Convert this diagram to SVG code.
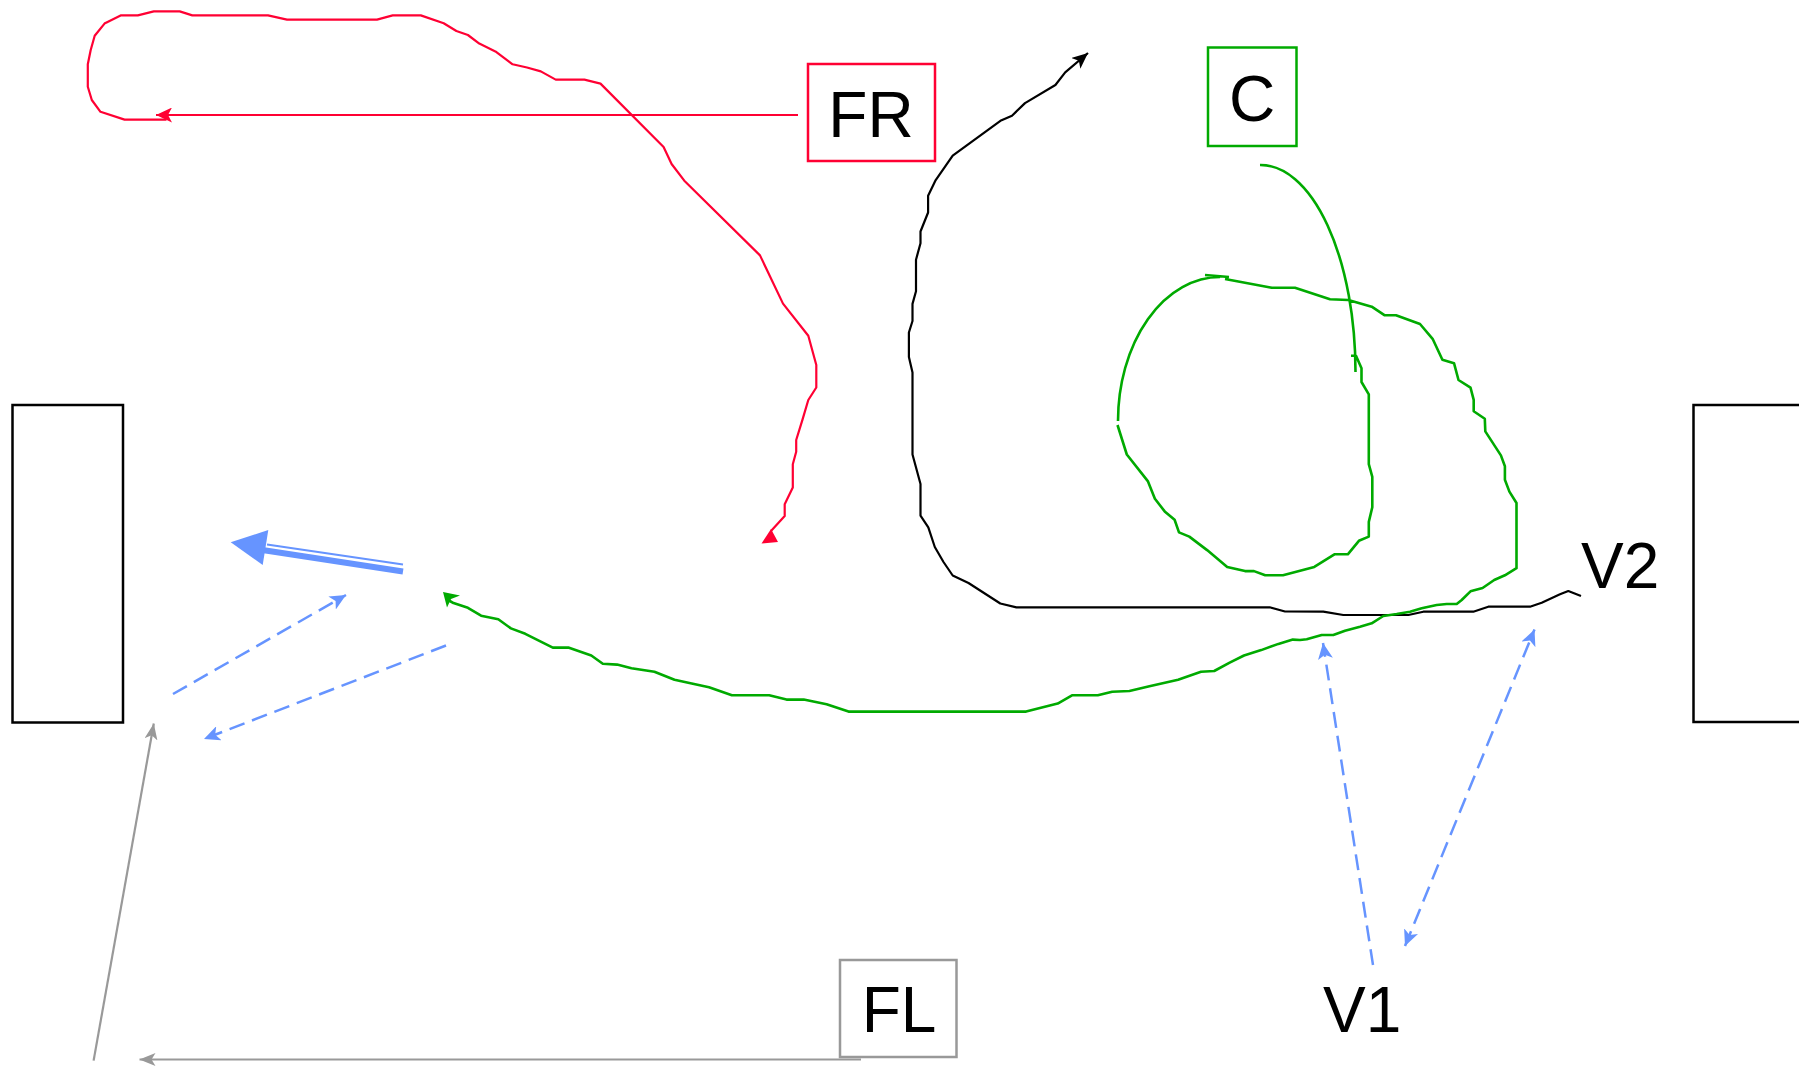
<svg xmlns="http://www.w3.org/2000/svg" width="1799" height="1067" viewBox="0 0 1799 1067">
<style>
.lbl{font-family:"Liberation Sans",Arial,sans-serif;font-size:64px;fill:#000}
.box{fill:#fff;stroke-width:2.5}
.wall{fill:#fff;stroke:#000;stroke-width:2.5}
.red{fill:none;stroke:#ff0033;stroke-width:2.2;stroke-linejoin:round}
.blk{fill:none;stroke:#000;stroke-width:2.2;stroke-linejoin:round}
.grn{fill:none;stroke:#00aa00;stroke-width:2.6;stroke-linejoin:round}
.gry{fill:none;stroke:#999;stroke-width:2.2}
.bdash{fill:none;stroke:#6694ff;stroke-width:2.5;stroke-dasharray:16 8}
</style>
<defs>
<marker id="aRed" markerUnits="userSpaceOnUse" viewBox="0 0 16 15" markerWidth="16" markerHeight="15" refX="16" refY="7.5" orient="auto"><path d="M16,7.5 L0,0 L4,7.5 L0,15 Z" fill="#ff0033"/></marker>
<marker id="aBlk" markerUnits="userSpaceOnUse" viewBox="0 0 16 14" markerWidth="16" markerHeight="14" refX="16" refY="7" orient="auto"><path d="M16,7 L0,0 L4,7 L0,14 Z" fill="#000"/></marker>
<marker id="aGry" markerUnits="userSpaceOnUse" viewBox="0 0 16 13" markerWidth="16" markerHeight="13" refX="16" refY="6.5" orient="auto"><path d="M16,6.5 L0,0 L4,6.5 L0,13 Z" fill="#999"/></marker>
<marker id="aBlu" markerUnits="userSpaceOnUse" viewBox="0 0 16 15" markerWidth="16" markerHeight="15" refX="16" refY="7.5" orient="auto-start-reverse"><path d="M16,7.5 L0,0 L4,7.5 L0,15 Z" fill="#6694ff"/></marker>
</defs>

<g id="wall-left"><rect class="wall" x="12.5" y="405" width="110.5" height="317.5"/></g>
<g id="wall-right"><rect class="wall" x="1693.5" y="405" width="120" height="317"/></g>

<g id="connectors">
  <!-- red -->
  <line class="red" x1="798" y1="115" x2="156" y2="115" marker-end="url(#aRed)"/>
  <path class="red" d="M166.5,119.6 L124.6,119.6 L100.5,111.8 L91.8,100 L87.8,86.8 L87.8,64.3 L90.7,50 L94.7,35.7 L104.5,23.6 L120.6,15.4 L137.8,15.4 L153.8,11.4 L179.7,11.4 L192.3,15.4 L268,15.4 L287,19.6 L377,19.6 L392.7,15.4 L420.8,15.4 L443.7,23.2 L456.4,31 L467.9,35 L479.3,43.6 L495.4,51.4 L512.6,64.3 L527,67.5 L540.8,71.4 L555.7,79.6 L584.4,79.6 L600.5,83.6 L663.6,147 L671.6,164 L684.3,180.7 L760,255.4 L783,303.6 L808.3,335.7 L816.3,365 L816.3,387.5 L808.3,400 L802.5,419.6 L796.2,440 L796.2,451.8 L792.8,464.3 L792.8,487.5 L784.7,504.3 L784.7,516 L771,531"/>
  <polygon points="761.5,543.5 778,542 771,529" fill="#ff0033"/>

  <!-- black -->
  <path class="blk" d="M1581,596 L1568.3,591 L1560,594.3 L1541.7,602.7 L1530,606.7 L1488.3,606.7 L1473.3,611.7 L1423.3,611.7 L1408.3,615 L1343.3,615 L1323.3,611.7 L1285,611.5 L1269.6,607.3 L1016.4,607.4 L1000.3,603.5 L968.5,583 L952.7,575.5 L943.5,562 L934.8,547 L928.3,527.4 L920.5,515.6 L920.5,484 L912.5,454.5 L912.5,372.5 L908.9,356.9 L908.9,332.5 L912.5,321 L912.5,303.9 L916,291.2 L916,259.7 L920.5,243.3 L920.5,231.5 L928.1,212.5 L928.1,195.7 L935.7,180.1 L952.7,155.7 L1000.4,120.8 L1012,115.7 L1025,103.1 L1055.4,85 L1065.2,72.4 L1088,53" marker-end="url(#aBlk)"/>

  <!-- green -->
  <path class="grn" d="M1260,165 A95,207 0 0 1 1355.5,372
   M1351,355.7 L1356,355.7 L1361.5,368.3 L1361.5,382 L1368.8,394.4 L1368.8,464.2 L1372.3,476.9 L1372.3,507.2 L1368.8,521.9 L1368.8,536.6 L1358.9,540.8 L1347.8,554.3 L1334.4,554.3 L1314.3,566.9 L1283,575.3 L1265.2,575.3 L1254,571.1 L1245,571.1 L1227.2,566.9 L1207.1,550.1 L1189.3,536.6 L1179,532.4 L1174.6,519.8 L1164.7,511.4 L1154.9,498.7 L1147.8,481.1 L1126.8,454.5 L1117.5,425
   M1118,421 A102,144 0 0 1 1220,277
   M1205,275 L1229,277
   M1225,279 L1271.7,287.7 L1295,287.7 L1330,299.3 L1348.3,300 L1371.7,306.7 L1384.4,315.2 L1396,315.2 L1420,324 L1432.6,338.8 L1442.4,359.8 L1454,363.2 L1458.5,380 L1470.5,387.6 L1473.7,399.8 L1473.7,411.2 L1484.8,418.8 L1485.3,431.4 L1500.9,455.4 L1504.9,466.3 L1504.9,479.8 L1509.4,491.6 L1516.5,503 L1516.5,568.2 L1504.9,575.3 L1494.2,580 L1482.6,588 L1470.5,591.3 L1461.7,600 L1456.7,604 L1446.7,604 L1436.7,605 L1421.7,608.3 L1410,611.7 L1396.7,614 L1383.3,616 L1371.7,623.3 L1360,626.7 L1345,630.7 L1333.3,635 L1321.7,635 L1306.7,639.3 L1300,640 L1292.8,639.6 L1278.4,643.9 L1261.2,650.1 L1244,655.5 L1229.7,662.7 L1214.2,671 L1201,671.8 L1178.1,679.7 L1149.4,686.3 L1129.4,691 L1112.2,691.7 L1097.8,695.3 L1072,695.3 L1057.7,703.6 L1026.1,711.6 L848.5,711.6 L826.6,704.3 L803.7,699.6 L786.5,699.6 L769.2,695.3 L731.9,695.3 L709,687.3 L691.7,683.4 L674.5,679.7 L654.4,671.8 L631.5,668.2 L617.1,664.6 L602.8,663.8 L591.3,655.5 L568.3,647.6 L552.8,647.6 L525.3,633.8 L510.9,628.4 L498.3,619.3 L481.1,615.7 L467.9,607.8 L453.5,603.1 L449,600.5"/>
  <polygon points="443,592 460,595.5 451,599 447,607.5" fill="#00aa00"/>

  <!-- blue thick double arrow -->
  <line x1="267" y1="544.5" x2="403" y2="564.5" stroke="#6694ff" stroke-width="2"/>
  <line x1="264" y1="550.3" x2="403" y2="571.5" stroke="#6694ff" stroke-width="6"/>
  <polygon points="230.7,542.3 268.3,530 262.7,565" fill="#6694ff"/>

  <!-- blue dashed -->
  <line class="bdash" x1="173" y1="694" x2="346" y2="595" marker-end="url(#aBlu)"/>
  <line class="bdash" x1="446" y1="645.5" x2="204" y2="739" marker-end="url(#aBlu)"/>
  <line class="bdash" x1="1373" y1="965" x2="1323" y2="643" marker-end="url(#aBlu)"/>
  <line class="bdash" x1="1405" y1="946" x2="1534.5" y2="629.5" marker-start="url(#aBlu)" marker-end="url(#aBlu)"/>

  <!-- gray -->
  <line class="gry" x1="93.6" y1="1060.6" x2="153.8" y2="723.5" marker-end="url(#aGry)"/>
  <line class="gry" x1="861" y1="1059.5" x2="139.5" y2="1059.5" marker-end="url(#aGry)"/>
</g>

<g id="node-FR"><rect class="box" x="808" y="64" width="127" height="97" stroke="#ff0033"/><text class="lbl" x="871" y="137" text-anchor="middle">FR</text></g>
<g id="node-C"><rect class="box" x="1208" y="47.5" width="88.5" height="98.5" stroke="#00aa00"/><text class="lbl" x="1252" y="121" text-anchor="middle">C</text></g>
<g id="node-FL"><rect class="box" x="840" y="960" width="116.5" height="97" stroke="#999"/><text class="lbl" x="899" y="1032" text-anchor="middle">FL</text></g>
<g id="node-V2"><text class="lbl" x="1581" y="588">V2</text></g>
<g id="node-V1"><text class="lbl" x="1323" y="1032">V1</text></g>
</svg>
